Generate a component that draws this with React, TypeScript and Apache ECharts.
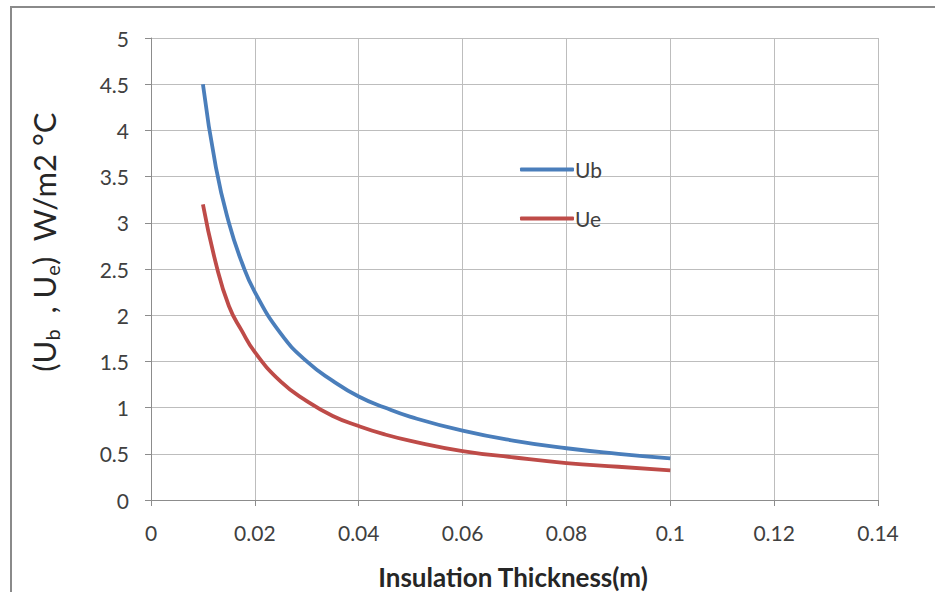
import React, { useEffect, useRef } from "react";
import * as echarts from "echarts";

const thickness = [0.01, 0.0125, 0.015, 0.0175, 0.02, 0.025, 0.03, 0.035, 0.04, 0.045, 0.05, 0.06, 0.07, 0.08, 0.09, 0.1];
const ubValues = [4.5, 3.6, 3.0, 2.57, 2.25, 1.8, 1.5, 1.29, 1.12, 1.0, 0.9, 0.75, 0.64, 0.56, 0.5, 0.45];
const ueValues = [3.2, 2.56, 2.1, 1.83, 1.6, 1.28, 1.07, 0.91, 0.8, 0.71, 0.64, 0.53, 0.46, 0.4, 0.36, 0.32];
const seriesNames = ["Ub", "Ue"];
const xTitle = "Insulation Thickness(m)";

const FONT = "Lato, 'Open Sans', sans-serif";

export default function App() {
  const ref = useRef<HTMLDivElement>(null);
  useEffect(() => {
    document.body.style.margin = "0";
    const chart = echarts.init(ref.current!, null, { renderer: "svg" });
    const pairs = (ys: number[]) => thickness.map((x, i) => [x, ys[i]]);
    chart.setOption({
      animation: false,
      backgroundColor: "#ffffff",
      grid: { left: 151, right: 57, top: 38, bottom: 92 },
      xAxis: {
        type: "value",
        min: 0,
        max: 0.14,
        interval: 0.02,
        axisLine: { show: true, onZero: false, lineStyle: { color: "#8c8c8c", width: 1 } },
        axisTick: { show: true, length: 6, lineStyle: { color: "#8c8c8c" } },
        axisLabel: { color: "#404040", fontSize: 21, fontFamily: FONT, margin: 22 },
        splitLine: { show: true, lineStyle: { color: "#bdbdbd", width: 1 } },
      },
      yAxis: {
        type: "value",
        min: 0,
        max: 5,
        interval: 0.5,
        axisLine: { show: true, lineStyle: { color: "#8c8c8c", width: 1 } },
        axisTick: { show: true, length: 6, lineStyle: { color: "#8c8c8c" } },
        axisLabel: { color: "#404040", fontSize: 21, fontFamily: FONT, margin: 22 },
        splitLine: { show: true, lineStyle: { color: "#bdbdbd", width: 1 } },
      },
      legend: {
        orient: "vertical",
        left: 520,
        top: 159,
        padding: 0,
        itemWidth: 54,
        itemHeight: 4,
        itemGap: 28,
        icon: "roundRect",
        textStyle: { color: "#404040", fontSize: 21, fontFamily: FONT, padding: [0, 0, 0, -4] },
        data: seriesNames,
      },
      series: [
        {
          name: seriesNames[0],
          type: "line",
          smooth: true,
          showSymbol: false,
          data: pairs(ubValues),
          lineStyle: { color: "#4a7ebb", width: 3.8 },
          itemStyle: { color: "#4a7ebb" },
        },
        {
          name: seriesNames[1],
          type: "line",
          smooth: true,
          showSymbol: false,
          data: pairs(ueValues),
          lineStyle: { color: "#be4b48", width: 3.8 },
          itemStyle: { color: "#be4b48" },
        },
      ],
      graphic: [
        {
          type: "rect",
          shape: { x: 11, y: 7, width: 1000, height: 1000 },
          style: { fill: "none", stroke: "#8a8a8a", lineWidth: 2 },
          silent: true,
        },
        {
          type: "text",
          x: 513,
          y: 577,
          style: {
            text: xTitle,
            font: `bold 26px ${FONT}`,
            fill: "#262626",
            align: "center",
            verticalAlign: "middle",
          },
        },
        {
          type: "text",
          x: 44,
          y: 242,
          rotation: Math.PI / 2,
          style: {
            text: "{m|(U}{s|b}{m|  , U}{s|e}{m|)  W/m2 °C}",
            align: "center",
            verticalAlign: "middle",
            fill: "#262626",
            rich: {
              m: { font: `31px ${FONT}`, fill: "#262626", lineHeight: 38 },
              s: { font: `20px ${FONT}`, fill: "#262626", lineHeight: 22, padding: [16, 0, 0, 0] },
            },
          },
        },
      ],
    });
    return () => chart.dispose();
  }, []);
  return <div ref={ref} style={{ width: 935, height: 592 }} />;
}
